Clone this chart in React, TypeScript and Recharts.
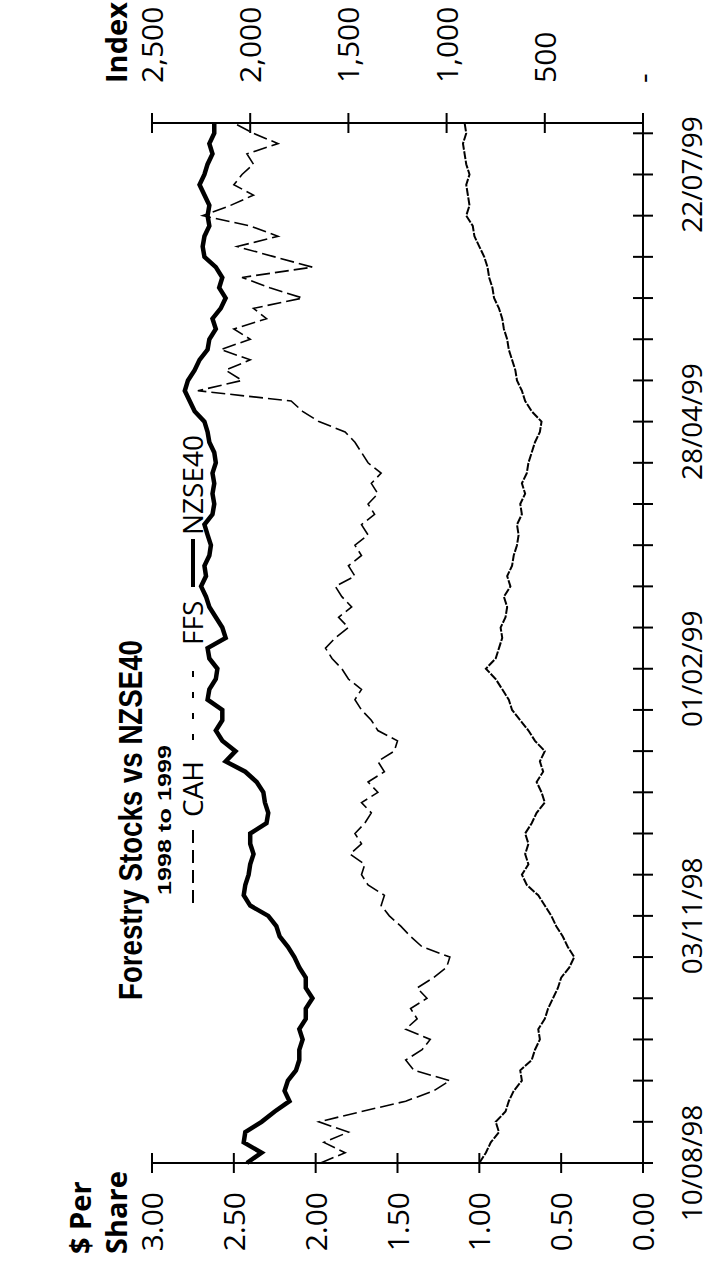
import { LineChart, Line, XAxis, YAxis } from 'recharts';

// one sample every ~2.5 trading days, tick every 4 samples
const dateLabels: Record<number, string> = {
  0: '10/08/98',
  24: '03/11/98',
  48: '01/02/99',
  72: '28/04/99',
  96: '22/07/99',
};

const cah = [
  1.97, 1.82, 1.95, 1.8, 1.98, 1.72, 1.45, 1.28, 1.18, 1.4, 1.45, 1.35, 1.3, 1.45, 1.38, 1.42, 1.32, 1.38, 1.28, 1.2,
  1.18, 1.35, 1.42, 1.48, 1.55, 1.6, 1.58, 1.68, 1.72, 1.7, 1.79, 1.72, 1.76, 1.7, 1.66, 1.72, 1.62, 1.68, 1.58, 1.62,
  1.52, 1.5, 1.62, 1.66, 1.72, 1.76, 1.72, 1.8, 1.84, 1.9, 1.94, 1.88, 1.8, 1.86, 1.78, 1.84, 1.88, 1.76, 1.8, 1.72,
  1.76, 1.68, 1.72, 1.64, 1.68, 1.62, 1.66, 1.6, 1.68, 1.72, 1.76, 1.82, 1.98, 2.08, 2.15, 2.72, 2.45, 2.55, 2.4, 2.58,
  2.4, 2.5, 2.3, 2.38, 2.08, 2.28, 2.45, 2.02, 2.25, 2.48, 2.23, 2.4, 2.69, 2.52, 2.38, 2.5, 2.45, 2.38, 2.42, 2.23,
  2.38, 2.5,
];

const ffs = [
  1.0, 0.96, 0.93, 0.88, 0.9, 0.84, 0.82, 0.79, 0.74, 0.75, 0.68, 0.66, 0.63, 0.64, 0.6, 0.58, 0.55, 0.52, 0.5, 0.45,
  0.42, 0.46, 0.49, 0.53, 0.56, 0.6, 0.64, 0.71, 0.74, 0.7, 0.72, 0.7, 0.72, 0.68, 0.65, 0.6, 0.62, 0.65, 0.61, 0.63,
  0.6, 0.66, 0.7, 0.75, 0.8, 0.82, 0.86, 0.9, 0.96, 0.9, 0.88, 0.86, 0.87, 0.84, 0.83, 0.85, 0.81, 0.83, 0.8, 0.79,
  0.77, 0.76, 0.77, 0.74, 0.75, 0.72, 0.74, 0.71, 0.7, 0.68, 0.66, 0.63, 0.62, 0.68, 0.72, 0.74, 0.77, 0.78, 0.8, 0.82,
  0.83, 0.85, 0.86, 0.88, 0.91, 0.92, 0.94, 0.95, 0.97, 1.0, 1.03, 1.04, 1.08, 1.06, 1.07, 1.08, 1.06, 1.08, 1.09, 1.1,
  1.08, 1.09,
];

const nzse40 = [
  2017, 1942, 2033, 2025, 1942, 1875, 1800, 1825, 1808, 1767, 1750, 1750, 1733, 1750, 1717, 1717, 1683, 1717, 1717, 1750,
  1775, 1808, 1850, 1867, 1908, 2000, 2033, 2025, 2008, 2000, 1983, 2000, 2000, 1917, 1908, 1925, 1933, 1967, 2025, 2125,
  2075, 2142, 2175, 2142, 2142, 2217, 2208, 2175, 2167, 2208, 2217, 2125, 2142, 2175, 2208, 2225, 2250, 2225, 2233, 2208,
  2200, 2217, 2233, 2192, 2183, 2192, 2183, 2192, 2175, 2183, 2208, 2217, 2233, 2283, 2308, 2333, 2317, 2283, 2258, 2217,
  2208, 2175, 2192, 2150, 2125, 2158, 2142, 2175, 2233, 2242, 2233, 2208, 2217, 2208, 2233, 2258, 2233, 2217, 2192, 2208,
  2183, 2183,
];

const shareTicks = [0, 0.5, 1, 1.5, 2, 2.5, 3];
const indexTicks = [0, 500, 1000, 1500, 2000, 2500];
const dateTicks = Array.from({ length: 26 }, (_, k) => k * 4);

const data = cah.map((v, i) => ({ i, cah: v, ffs: ffs[i], nzse: nzse40[i] }));

const W = 1266;
const H = 710;
const FONT = '"Open Sans", "DejaVu Sans", sans-serif';
const BOLD = '"Liberation Sans", Arial, sans-serif';

const ShareTick = ({ x, y, payload }: any) => (
  <g>
    <line x1={x - 10} x2={x + 10} y1={y} y2={y} stroke="#000" strokeWidth={2} />
    <text x={x - 29} y={y + 11} textAnchor="end" fontSize={30} fontFamily={FONT} fill="#000">
      {Number(payload.value).toFixed(2)}
    </text>
  </g>
);

const IndexTick = ({ x, y, payload }: any) => (
  <g>
    <line x1={x - 10} x2={x + 10} y1={y} y2={y} stroke="#000" strokeWidth={2} />
    <text x={x + 40} y={y + 11} textAnchor="start" fontSize={30} fontFamily={FONT} fill="#000">
      {payload.value === 0 ? '-' : payload.value.toLocaleString('en-US')}
    </text>
  </g>
);

const DateTick = ({ x, y, payload }: any) => (
  <g>
    <line x1={x} x2={x} y1={y - 10} y2={y + 10} stroke="#000" strokeWidth={2} />
    {dateLabels[payload.value] && (
      <text x={x} y={y + 59} textAnchor="middle" fontSize={28} fontFamily={FONT} fill="#000">
        {dateLabels[payload.value]}
      </text>
    )}
  </g>
);

// title, subtitle, legend and axis captions drawn over the chart
const Overlay = () => (
  <svg width={W} height={H} style={{ position: 'absolute', left: 0, top: 0, pointerEvents: 'none' }}>
    <text x={266} y={142} fontFamily={BOLD} fontWeight={700} fontSize={33} textLength={360} lengthAdjust="spacingAndGlyphs">
      Forestry Stocks vs NZSE40
    </text>
    <text x={371} y={171} fontFamily={BOLD} fontWeight={700} fontSize={19} textLength={150} lengthAdjust="spacingAndGlyphs">
      1998 to 1999
    </text>
    <line x1={363} x2={439} y1={193} y2={193} stroke="#000" strokeWidth={2} strokeDasharray="13 7" />
    <text x={449} y={203} fontSize={28} fontFamily={FONT}>CAH</text>
    <line x1={526} x2={606} y1={193} y2={193} stroke="#000" strokeWidth={2} strokeDasharray="6 15" />
    <text x={621} y={203} fontSize={28} fontFamily={FONT}>FFS</text>
    <line x1={679} x2={727} y1={193} y2={193} stroke="#000" strokeWidth={4} />
    <text x={731} y={203} fontSize={28} fontFamily={FONT}>NZSE40</text>
    <text x={12} y={91} fontFamily={FONT} fontWeight={700} fontSize={29}>$ Per</text>
    <text x={12} y={127} fontFamily={FONT} fontWeight={700} fontSize={29}>Share</text>
    <text x={1183} y={127} fontFamily={FONT} fontWeight={700} fontSize={29}>Index</text>
  </svg>
);

export default function App() {
  return (
    <div style={{ position: 'absolute', left: 0, top: 0, width: H, height: W, overflow: 'hidden', background: '#fff' }}>
      <div
        style={{
          position: 'absolute',
          left: 0,
          top: 0,
          width: W,
          height: H,
          transformOrigin: '0 0',
          transform: `translateY(${W}px) rotate(-90deg)`,
        }}
      >
        <LineChart width={W} height={H} data={data} margin={{ top: 152, right: 0, left: 0, bottom: 0 }}>
          <XAxis
            dataKey="i"
            type="number"
            domain={[0, 101]}
            ticks={dateTicks}
            interval={0}
            height={67}
            tickSize={0}
            tickMargin={0}
            tickLine={false}
            axisLine={{ stroke: '#000', strokeWidth: 2 }}
            tick={<DateTick />}
          />
          <YAxis
            yAxisId="share"
            orientation="left"
            domain={[0, 3]}
            ticks={shareTicks}
            width={103}
            tickSize={0}
            tickMargin={0}
            tickLine={false}
            axisLine={{ stroke: '#000', strokeWidth: 2 }}
            tick={<ShareTick />}
          />
          <YAxis
            yAxisId="index"
            orientation="right"
            domain={[0, 2500]}
            ticks={indexTicks}
            width={123}
            tickSize={0}
            tickMargin={0}
            tickLine={false}
            axisLine={{ stroke: '#000', strokeWidth: 2 }}
            tick={<IndexTick />}
          />
          <Line yAxisId="share" dataKey="ffs" stroke="#000" strokeWidth={2} strokeDasharray="8 1.5" dot={false} isAnimationActive={false} />
          <Line yAxisId="share" dataKey="cah" stroke="#000" strokeWidth={1.6} strokeDasharray="14 5" dot={false} isAnimationActive={false} />
          <Line yAxisId="index" dataKey="nzse" stroke="#000" strokeWidth={4.5} dot={false} isAnimationActive={false} />
        </LineChart>
        <Overlay />
      </div>
    </div>
  );
}
